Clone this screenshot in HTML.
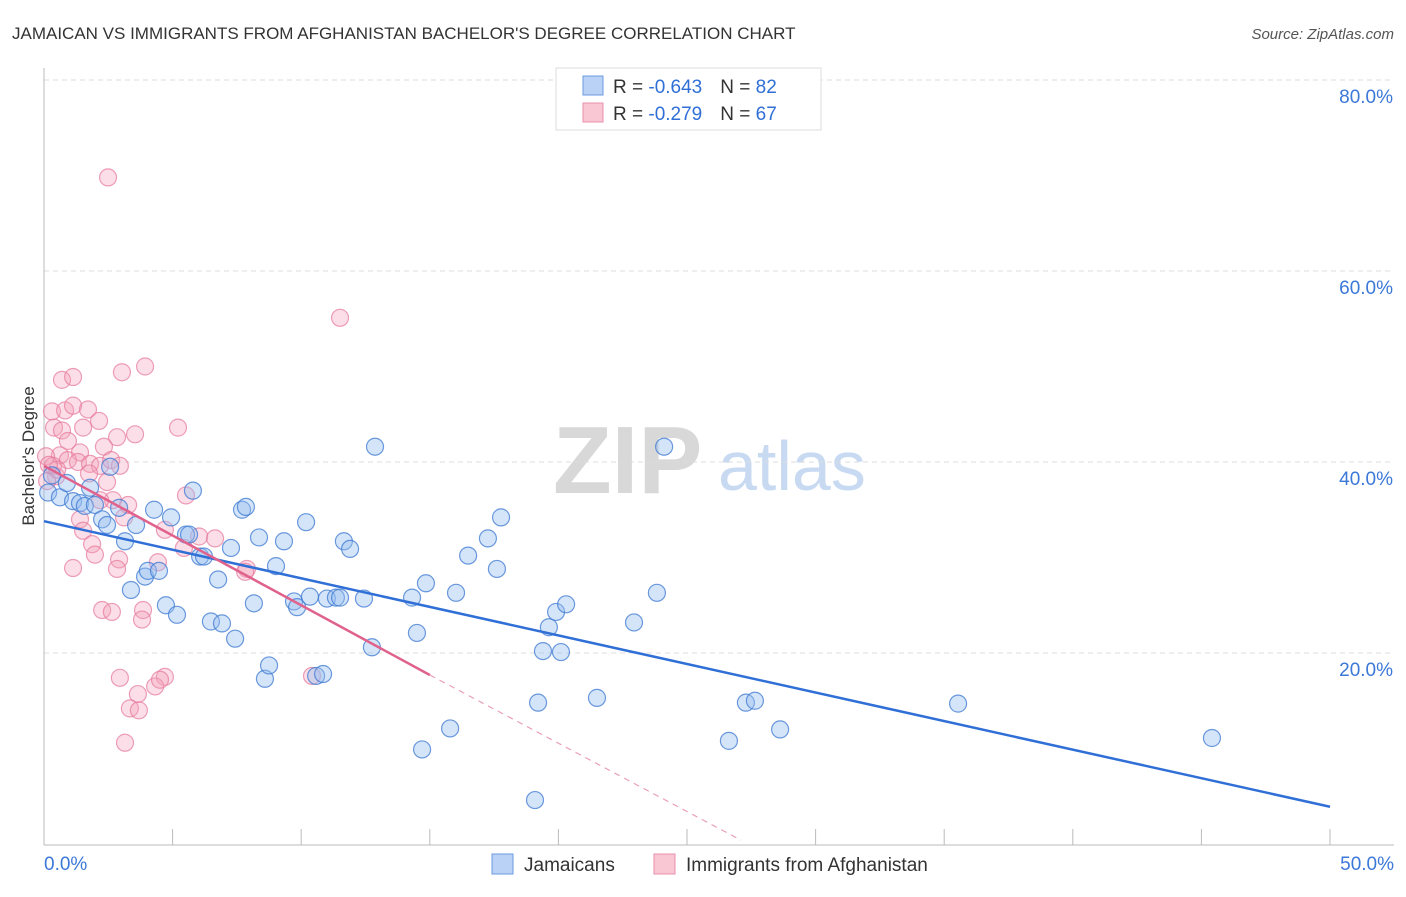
<!DOCTYPE html>
<html><head><meta charset="utf-8"><style>
body{margin:0;background:#fff;font-family:"Liberation Sans",sans-serif}
svg text{font-family:"Liberation Sans",sans-serif}
</style></head><body>
<svg id="chart" width="1406" height="892">
<text x="12" y="39" font-size="17" fill="#333">JAMAICAN VS IMMIGRANTS FROM AFGHANISTAN BACHELOR'S DEGREE CORRELATION CHART</text>
<text x="1394" y="39" font-size="15" fill="#555" text-anchor="end" font-style="italic">Source: ZipAtlas.com</text>
<g>
<text x="553" y="493" font-size="96" fill="#d8d8d8" font-family="Liberation Serif" font-weight="bold">ZIP</text>
<text x="718" y="490" font-size="70" fill="#c8daf2">atlas</text>
</g>
<g id="grid"></g>
<g id="axes"></g>
<g id="marks"></g>
<text transform="translate(34,456) rotate(-90)" font-size="17" fill="#333" text-anchor="middle">Bachelor's Degree</text>
<g>
<rect x="556" y="68" width="265" height="62" fill="#fff" stroke="#ddd"/>
<rect x="583" y="76" width="20" height="19" fill="#b9d2f5" stroke="#6b9be0"/>
<rect x="583" y="103" width="20" height="19" fill="#f9c6d4" stroke="#e890a8"/>
<text x="613" y="93" font-size="19" fill="#333">R = <tspan fill="#2f6fd6">-0.643</tspan><tspan dx="18">N = </tspan><tspan fill="#2f6fd6">82</tspan></text>
<text x="613" y="120" font-size="19" fill="#333">R = <tspan fill="#2f6fd6">-0.279</tspan><tspan dx="18">N = </tspan><tspan fill="#2f6fd6">67</tspan></text>
</g>
<g>
<rect x="492" y="854" width="21" height="20" fill="#b9d2f5" stroke="#6b9be0"/>
<text x="524" y="871" font-size="19" fill="#333">Jamaicans</text>
<rect x="654" y="854" width="21" height="20" fill="#f9c6d4" stroke="#e890a8"/>
<text x="686" y="871" font-size="19" fill="#333">Immigrants from Afghanistan</text>
</g>
</svg>
<script>
const yTicks=[20,40,60,80];
const yTickLabels=["20.0%","40.0%","60.0%","80.0%"];
const xTicks=[0,5,10,15,20,25,30,35,40,45,50];
const xEndLabels=["0.0%","50.0%"];
const blueX=[0.16,0.62,0.89,1.13,1.40,1.59,1.98,1.79,2.26,2.57,2.45,2.92,3.15,3.38,3.58,3.93,4.04,4.28,4.47,4.74,4.94,5.17,5.52,5.64,5.79,6.07,6.22,6.49,6.77,6.92,7.27,7.43,7.70,7.85,8.16,8.36,8.59,8.75,9.02,9.33,9.72,9.84,10.19,10.34,10.58,10.85,11.00,11.35,11.51,11.66,11.90,12.44,12.75,12.87,14.31,14.50,14.70,14.85,15.79,16.02,16.49,17.26,17.61,17.77,19.09,19.21,19.40,19.63,19.91,20.10,20.30,21.50,22.94,23.83,24.11,26.63,27.29,27.64,28.62,35.54,45.41,0.31];
const blueY=[36.8,36.3,37.8,35.9,35.7,35.4,35.5,37.3,34.0,39.5,33.4,35.2,31.7,26.6,33.4,28.0,28.6,35.0,28.6,25.0,34.2,24.0,32.4,32.4,37.0,30.1,30.1,23.3,27.7,23.1,31.0,21.5,35.0,35.3,25.2,32.1,17.3,18.7,29.1,31.7,25.4,24.8,33.7,25.9,17.6,17.8,25.7,25.8,25.8,31.7,30.9,25.7,20.6,41.6,25.8,22.1,9.9,27.3,12.1,26.3,30.2,32.0,28.8,34.2,4.6,14.8,20.2,22.7,24.3,20.1,25.1,15.3,23.2,26.3,41.6,10.8,14.8,15.0,12.0,14.7,11.1,38.6];
const pinkX=[2.49,11.51,3.93,3.03,0.70,1.13,0.31,0.82,1.13,1.71,2.14,0.39,0.70,0.93,1.52,2.84,3.54,5.21,2.33,1.40,0.62,0.08,0.35,0.93,1.32,1.79,2.18,2.61,2.95,1.75,0.47,0.12,2.45,2.68,5.52,3.11,1.40,4.70,6.03,1.52,1.87,2.92,1.13,2.84,4.43,1.98,7.89,2.26,2.64,3.85,3.81,2.95,3.65,4.70,4.32,3.34,3.69,3.15,10.42,6.65,7.82,3.27,0.51,0.19,4.51,5.44,2.18];
const pinkY=[69.8,55.1,50.0,49.4,48.6,48.9,45.3,45.4,45.9,45.5,44.3,43.6,43.3,42.2,43.6,42.6,42.9,43.6,41.6,41.0,40.7,40.6,39.6,40.2,40.0,39.8,39.6,40.2,39.6,38.8,38.5,38.0,37.9,36.0,36.5,34.2,34.0,32.9,32.2,32.8,31.4,29.8,28.9,28.8,29.5,30.3,28.8,24.5,24.3,24.5,23.5,17.4,15.7,17.5,16.5,14.2,14.0,10.6,17.6,32.0,28.5,35.5,39.2,39.7,17.2,31.0,36.0];
const blueTrend=[33.8,3.9];      // value at x=0, x=50
const pinkTrend=[39.6,17.7,0.4]; // value at x=0, x=15, x=27.1
const pinkTrendX=[0,15,27.1];

const NS="http://www.w3.org/2000/svg";
const xs=v=>44+v/50*1286;
const ys=v=>844-v/20*191;
function mk(tag,attrs,parent){const e=document.createElementNS(NS,tag);for(const k in attrs)e.setAttribute(k,attrs[k]);parent.appendChild(e);return e;}
const grid=document.getElementById('grid'),axes=document.getElementById('axes'),marks=document.getElementById('marks');
yTicks.forEach((t,i)=>{
  const l=mk('line',{x1:44,x2:1394,y1:ys(t),y2:ys(t),stroke:'#ddd','stroke-dasharray':'5,4'},grid);
  
  
  const tx=mk('text',{x:1393,y:ys(t)+23,'font-size':19,fill:'#3b78d8','text-anchor':'end'},axes);
  tx.textContent=yTickLabels[i];
  
  
});
const ax=mk('line',{x1:44,x2:1394,y1:845,y2:845,stroke:'#bbb'},axes);


const ay=mk('line',{x1:44,x2:44,y1:68,y2:845,stroke:'#bbb'},axes);


xTicks.forEach(t=>{
  const l=mk('line',{x1:xs(t),x2:xs(t),y1:829,y2:845,stroke:'#bbb'},axes);
  
  
});
const xl0=mk('text',{x:44,y:870,'font-size':19,fill:'#3b78d8'},axes);xl0.textContent=xEndLabels[0];


const xl1=mk('text',{x:1394,y:870,'font-size':19,fill:'#3b78d8','text-anchor':'end'},axes);xl1.textContent=xEndLabels[1];



pinkX.forEach((v,i)=>{
  const c=mk('circle',{cx:xs(v),cy:ys(pinkY[i]),r:8.5,fill:'rgba(244,160,185,0.35)',stroke:'rgba(230,120,155,0.7)','stroke-width':1.2},marks);
  
  
});
blueX.forEach((v,i)=>{
  const c=mk('circle',{cx:xs(v),cy:ys(blueY[i]),r:8.5,fill:'rgba(150,190,240,0.4)',stroke:'rgba(60,120,210,0.75)','stroke-width':1.2},marks);
  
  
});
const bl=mk('line',{x1:xs(0),y1:ys(blueTrend[0]),x2:xs(50),y2:ys(blueTrend[1]),stroke:'#2f6fd6','stroke-width':2.5},marks);


const pl=mk('line',{x1:xs(pinkTrendX[0]),y1:ys(pinkTrend[0]),x2:xs(pinkTrendX[1]),y2:ys(pinkTrend[1]),stroke:'#e0628c','stroke-width':2.5},marks);


const pd=mk('line',{x1:xs(pinkTrendX[1]),y1:ys(pinkTrend[1]),x2:xs(pinkTrendX[2]),y2:ys(pinkTrend[2]),stroke:'#eaa0b8','stroke-width':1.2,'stroke-dasharray':'6,5'},marks);


</script>
</body></html>
